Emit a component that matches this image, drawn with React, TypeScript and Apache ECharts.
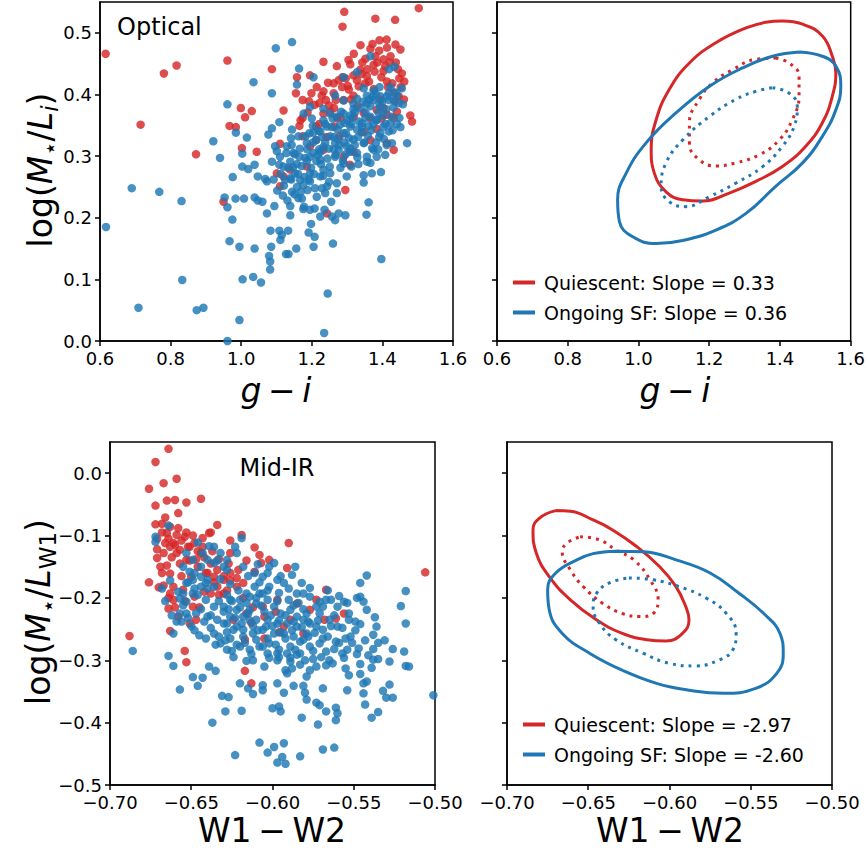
import React, { useEffect, useRef } from 'react';
import * as echarts from 'echarts';

const RED = '#d62728';
const BLUE = '#1f77b4';
const FF = 'DejaVu Sans';

// ---------- Tick values ----------
const optXTicks = [0.6, 0.8, 1.0, 1.2, 1.4, 1.6];
const optYTicks = [0.0, 0.1, 0.2, 0.3, 0.4, 0.5];
const irXTicks = [-0.7, -0.65, -0.6, -0.55, -0.5];
const irYTicks = [-0.5, -0.4, -0.3, -0.2, -0.1, 0.0];

// ---------- Optical scatter (g-i, log M/L_i) ----------
const opticalQuiescent: number[][] = [
  [0.616,0.466],[0.781,0.434],[0.817,0.447],[0.715,0.351],[0.872,0.303],[0.961,0.455],[0.999,0.378],[1.011,0.363],
  [1.030,0.373],[0.967,0.349],[0.985,0.347],[1.002,0.313],[1.044,0.307],[1.087,0.441],[1.120,0.374],[1.110,0.320],
  [0.950,0.226],[1.292,0.534],[1.287,0.510],[1.380,0.523],[1.436,0.521],[1.503,0.540],[1.338,0.480],[1.233,0.453],
  [1.271,0.446],[1.195,0.431],[1.158,0.428],[1.155,0.402],[1.199,0.402],[1.233,0.405],[1.276,0.423],[1.304,0.456],
  [1.319,0.466],[1.366,0.474],[1.392,0.488],[1.413,0.476],[1.437,0.481],[1.451,0.473],[1.380,0.462],[1.403,0.457],
  [1.337,0.440],[1.356,0.430],[1.403,0.438],[1.455,0.434],[1.413,0.421],[1.432,0.403],[1.446,0.397],[1.436,0.389],
  [1.479,0.366],[1.484,0.356],[1.432,0.362],[1.413,0.367],[1.174,0.391],[1.221,0.386],[1.249,0.382],[1.240,0.391],
  [1.263,0.378],[1.286,0.412],[1.305,0.408],[1.333,0.413],[1.174,0.362],[1.165,0.349],[1.212,0.348],[1.233,0.369],
  [1.319,0.364],[1.347,0.370],[1.384,0.375],[1.403,0.378],[1.174,0.332],[1.195,0.316],[1.233,0.310],[1.290,0.299],
  [1.308,0.286],[1.318,0.307],[1.413,0.321],[1.432,0.310],[1.101,0.272],[1.120,0.267],[1.139,0.278],[1.110,0.251],
  [1.186,0.283],[1.295,0.245],[1.243,0.207],[1.347,0.339],[1.366,0.326],[1.264,0.348],[1.278,0.332],[1.212,0.326],
  [1.384,0.344],[1.290,0.391],[1.328,0.423],[1.351,0.418],[1.375,0.448],
  [1.252,0.372],[1.268,0.391],[1.302,0.414],[1.318,0.398],[1.341,0.433],[1.362,0.421],[1.378,0.437],[1.397,0.428],
  [1.421,0.452],[1.444,0.441],[1.309,0.449],[1.352,0.458],[1.391,0.471],[1.412,0.489],[1.372,0.482],[1.428,0.418],
  [1.452,0.412],[1.287,0.428],[1.228,0.398],[1.208,0.383],[1.188,0.371],[1.168,0.358],[1.262,0.418],[1.281,0.363],
  [1.329,0.381],[1.461,0.392],[1.441,0.372],[1.398,0.361],[1.221,0.352],[1.242,0.331],
  [1.262,0.402],[1.296,0.426],[1.318,0.431],[1.343,0.452],[1.357,0.441],[1.386,0.452],[1.408,0.446],[1.423,0.462],
  [1.438,0.452],[1.448,0.426],[1.416,0.412],[1.376,0.409],[1.311,0.392],[1.246,0.419],[1.214,0.412],[1.192,0.389],
  [1.271,0.362],[1.364,0.362],[1.395,0.392],[1.462,0.421],
];

const opticalSF: number[][] = [
  [0.617,0.185],[0.690,0.248],[0.768,0.242],[0.831,0.227],[0.833,0.099],[0.709,0.054],[0.874,0.050],[0.893,0.054],
  [0.995,0.034],[0.961,0.000],[1.004,0.100],[1.034,0.104],[1.056,0.095],[1.082,0.116],[1.082,0.129],[1.079,0.138],
  [1.085,0.153],[1.038,0.150],[0.995,0.153],[0.967,0.162],[0.975,0.197],[0.961,0.217],[0.953,0.233],[0.984,0.231],
  [1.008,0.231],[1.038,0.233],[1.047,0.228],[1.060,0.226],[1.073,0.207],[1.094,0.219],[1.083,0.179],[1.108,0.179],
  [1.115,0.172],[1.111,0.164],[1.133,0.179],[1.127,0.141],[1.134,0.141],[1.156,0.150],[1.139,0.204],[1.139,0.219],
  [1.162,0.232],[1.176,0.214],[1.195,0.213],[1.208,0.215],[1.224,0.202],[1.236,0.213],[1.257,0.202],[1.266,0.196],
  [1.276,0.207],[1.295,0.204],[1.191,0.176],[1.198,0.190],[1.208,0.169],[1.205,0.153],[1.260,0.158],[1.235,0.013],
  [1.245,0.077],[1.397,0.133],[1.355,0.205],[1.361,0.225],[1.470,0.321],[1.396,0.274],[1.455,0.410],[1.434,0.445],
  [1.419,0.441],[1.366,0.462],[1.328,0.436],[1.290,0.428],[1.205,0.428],[1.164,0.442],[1.158,0.416],[1.144,0.485],
  [1.098,0.475],[1.035,0.420],[1.087,0.402],[0.961,0.384],[0.985,0.338],[1.016,0.330],[0.921,0.324],[0.940,0.297],
  [0.976,0.266],[1.003,0.304],[1.003,0.283],[1.020,0.279],[1.038,0.286],[1.047,0.267],[1.068,0.263],[1.087,0.291],
  [1.073,0.259],[1.096,0.316],[1.087,0.345],[1.108,0.355],[1.077,0.335],[1.144,0.343],[1.141,0.329],[1.129,0.316],
  [1.110,0.299],[1.120,0.283],[1.139,0.291],[1.153,0.272],[1.167,0.261],[1.158,0.250],[1.144,0.242],[1.176,0.253],
  [1.195,0.259],[1.165,0.299],[1.195,0.299],[1.224,0.294],[1.233,0.278],[1.224,0.267],[1.252,0.272],[1.271,0.256],
  [1.243,0.251],[1.299,0.267],[1.271,0.240],[1.238,0.240],[1.214,0.234],[1.193,0.337],[1.212,0.326],[1.233,0.315],
  [1.224,0.307],[1.252,0.332],[1.266,0.321],[1.276,0.310],[1.299,0.316],[1.318,0.327],[1.290,0.337],[1.309,0.348],
  [1.328,0.343],[1.347,0.321],[1.356,0.299],[1.356,0.291],[1.375,0.310],[1.384,0.299],[1.408,0.302],[1.370,0.272],
  [1.347,0.269],[1.347,0.257],[1.394,0.337],[1.418,0.340],[1.427,0.321],[1.403,0.348],[1.422,0.353],[1.366,0.364],
  [1.384,0.359],[1.342,0.353],[1.252,0.369],[1.271,0.364],[1.290,0.369],[1.309,0.366],[1.233,0.358],[1.200,0.361],
  [1.177,0.369],[1.195,0.380],[1.233,0.377],[1.266,0.398],[1.290,0.390],[1.318,0.385],[1.356,0.398],[1.375,0.406],
  [1.394,0.397],[1.413,0.397],[1.432,0.391],[1.446,0.386],[1.356,0.385],[1.375,0.391],[1.394,0.380],[1.418,0.402],
  [1.347,0.410],[1.328,0.393],[1.243,0.348],[1.224,0.340],[1.280,0.351],[1.186,0.321],[1.205,0.305],[1.148,0.305],
  [1.101,0.308],[1.139,0.264],[1.195,0.272],[1.290,0.288],[1.308,0.307],[1.328,0.305],[1.266,0.299],
  [1.152,0.303],[1.171,0.284],[1.187,0.311],[1.213,0.292],[1.229,0.331],[1.248,0.312],[1.273,0.343],[1.291,0.322],
  [1.312,0.352],[1.331,0.331],[1.352,0.362],[1.368,0.342],[1.389,0.371],[1.409,0.352],[1.431,0.379],[1.362,0.392],
  [1.381,0.401],[1.399,0.388],[1.423,0.412],[1.442,0.398],[1.338,0.378],[1.322,0.371],[1.301,0.358],[1.283,0.372],
  [1.259,0.361],[1.238,0.352],[1.219,0.341],[1.203,0.322],[1.182,0.297],[1.161,0.271],[1.142,0.262],[1.121,0.252],
  [1.133,0.281],[1.151,0.238],[1.172,0.231],[1.191,0.262],[1.209,0.248],[1.232,0.268],[1.251,0.283],[1.268,0.302],
  [1.288,0.293],[1.309,0.312],[1.329,0.298],[1.349,0.322],[1.371,0.313],[1.391,0.331],[1.412,0.318],[1.429,0.342],
  [1.448,0.362],[1.383,0.358],[1.361,0.349],[1.341,0.339],[1.262,0.331],[1.221,0.311],[1.182,0.332],[1.203,0.349],
  [1.112,0.271],[1.092,0.262],[1.131,0.228],[1.162,0.332],
  [1.128,0.305],[1.143,0.318],[1.158,0.287],[1.166,0.312],[1.179,0.266],[1.186,0.292],[1.198,0.281],[1.204,0.338],
  [1.217,0.302],[1.226,0.287],[1.238,0.322],[1.244,0.296],[1.256,0.347],[1.262,0.311],[1.274,0.328],[1.281,0.281],
  [1.293,0.354],[1.297,0.337],[1.306,0.329],[1.314,0.362],[1.322,0.318],[1.334,0.356],[1.343,0.347],[1.352,0.371],
  [1.359,0.333],[1.366,0.381],[1.374,0.352],[1.382,0.322],[1.391,0.386],[1.402,0.366],[1.411,0.376],[1.418,0.391],
  [1.426,0.364],[1.437,0.403],[1.441,0.352],[1.392,0.412],[1.372,0.396],[1.345,0.388],[1.318,0.376],[1.296,0.303],
  [1.278,0.318],[1.249,0.258],[1.229,0.248],[1.206,0.271],[1.188,0.245],[1.169,0.242],[1.147,0.282],[1.124,0.262],
  [1.108,0.286],[1.102,0.244],[1.118,0.236],[1.178,0.218],[1.255,0.226],[1.312,0.283],[1.332,0.287],[1.366,0.289],
  [1.388,0.311],[1.404,0.328],[1.451,0.347],[1.458,0.384],
];

// ---------- Mid-IR scatter (W1-W2, log M/L_W1) ----------
const midirQuiescent: number[][] = [
  [-0.664,0.039],[-0.672,0.018],[-0.667,-0.016],[-0.659,-0.009],[-0.676,-0.025],[-0.672,-0.052],[-0.665,-0.044],[-0.660,-0.043],
  [-0.653,-0.047],[-0.644,-0.041],[-0.658,-0.064],[-0.672,-0.082],[-0.666,-0.071],[-0.668,-0.081],[-0.663,-0.086],[-0.665,-0.096],
  [-0.659,-0.099],[-0.654,-0.102],[-0.649,-0.100],[-0.643,-0.104],[-0.639,-0.096],[-0.634,-0.083],[-0.638,-0.095],[-0.671,-0.122],
  [-0.671,-0.136],[-0.665,-0.148],[-0.663,-0.161],[-0.676,-0.175],[-0.670,-0.183],[-0.663,-0.193],[-0.661,-0.203],[-0.664,-0.217],
  [-0.663,-0.253],[-0.688,-0.261],[-0.654,-0.285],[-0.653,-0.303],[-0.617,-0.317],[-0.613,-0.337],[-0.590,-0.112],[-0.619,-0.099],
  [-0.626,-0.108],[-0.611,-0.119],[-0.608,-0.131],[-0.602,-0.139],[-0.607,-0.144],[-0.591,-0.152],[-0.506,-0.159],[-0.567,-0.187],
  [-0.556,-0.225],[-0.568,-0.235],[-0.561,-0.233],[-0.651,-0.118],[-0.644,-0.128],[-0.653,-0.139],[-0.646,-0.150],[-0.641,-0.160],
  [-0.636,-0.166],[-0.630,-0.171],[-0.626,-0.160],[-0.622,-0.168],[-0.618,-0.176],[-0.634,-0.182],[-0.638,-0.193],[-0.630,-0.193],
  [-0.650,-0.166],[-0.655,-0.187],[-0.649,-0.214],[-0.647,-0.235],[-0.651,-0.241],[-0.624,-0.235],[-0.616,-0.225],[-0.606,-0.214],
  [-0.597,-0.203],[-0.593,-0.246],[-0.589,-0.235],[-0.585,-0.209],[-0.581,-0.257],[-0.577,-0.219],[-0.573,-0.203],[-0.605,-0.265],
  [-0.617,-0.267],[-0.626,-0.128],[-0.661,-0.112],[-0.657,-0.123],[-0.666,-0.112],[-0.668,-0.160],[-0.659,-0.128],
  [-0.668,-0.095],[-0.664,-0.105],[-0.660,-0.115],[-0.656,-0.108],[-0.652,-0.118],[-0.648,-0.112],[-0.646,-0.125],[-0.642,-0.135],
  [-0.638,-0.145],[-0.634,-0.155],[-0.630,-0.165],[-0.626,-0.172],[-0.622,-0.182],[-0.636,-0.175],[-0.642,-0.190],[-0.648,-0.198],
  [-0.654,-0.205],[-0.660,-0.215],[-0.664,-0.200],[-0.667,-0.180],[-0.669,-0.150],[-0.662,-0.135],[-0.657,-0.145],[-0.651,-0.140],
  [-0.640,-0.160],[-0.628,-0.188],[-0.618,-0.200],[-0.612,-0.215],[-0.605,-0.230],[-0.598,-0.222],
  [-0.671,-0.105],[-0.667,-0.128],[-0.663,-0.118],[-0.658,-0.088],[-0.653,-0.095],[-0.647,-0.138],[-0.643,-0.118],[-0.637,-0.125],
  [-0.633,-0.138],[-0.627,-0.145],[-0.621,-0.155],[-0.616,-0.140],[-0.611,-0.158],[-0.656,-0.165],[-0.661,-0.182],[-0.658,-0.230],
  [-0.645,-0.215],[-0.633,-0.195],[-0.613,-0.240],[-0.596,-0.255],
];

const midirSF: number[][] = [
  [-0.686,-0.285],[-0.664,-0.293],[-0.661,-0.309],[-0.657,-0.347],[-0.649,-0.327],[-0.646,-0.341],[-0.643,-0.328],[-0.639,-0.310],
  [-0.635,-0.317],[-0.637,-0.400],[-0.631,-0.357],[-0.627,-0.359],[-0.629,-0.382],[-0.619,-0.381],[-0.623,-0.452],[-0.620,-0.337],
  [-0.615,-0.345],[-0.612,-0.354],[-0.608,-0.432],[-0.603,-0.448],[-0.599,-0.439],[-0.597,-0.464],[-0.593,-0.433],[-0.594,-0.455],
  [-0.592,-0.466],[-0.606,-0.348],[-0.606,-0.340],[-0.600,-0.377],[-0.596,-0.374],[-0.595,-0.382],[-0.593,-0.352],[-0.597,-0.337],
  [-0.587,-0.341],[-0.583,-0.454],[-0.582,-0.392],[-0.579,-0.363],[-0.581,-0.341],[-0.580,-0.352],[-0.573,-0.368],[-0.571,-0.372],
  [-0.572,-0.403],[-0.569,-0.443],[-0.562,-0.440],[-0.569,-0.345],[-0.567,-0.382],[-0.561,-0.376],[-0.560,-0.385],[-0.561,-0.396],
  [-0.554,-0.348],[-0.544,-0.353],[-0.544,-0.337],[-0.546,-0.322],[-0.542,-0.334],[-0.543,-0.371],[-0.539,-0.392],[-0.535,-0.383],
  [-0.532,-0.349],[-0.530,-0.360],[-0.528,-0.339],[-0.526,-0.360],[-0.526,-0.282],[-0.519,-0.286],[-0.518,-0.309],[-0.516,-0.310],
  [-0.518,-0.241],[-0.518,-0.189],[-0.521,-0.213],[-0.501,-0.356],[-0.542,-0.164],[-0.546,-0.176],[-0.536,-0.246],[-0.538,-0.259],
  [-0.535,-0.272],[-0.538,-0.282],[-0.535,-0.298],[-0.538,-0.299],[-0.546,-0.306],[-0.549,-0.252],[-0.546,-0.242],[-0.542,-0.219],
  [-0.544,-0.206],[-0.548,-0.200],[-0.554,-0.208],[-0.553,-0.235],[-0.555,-0.265],[-0.554,-0.283],[-0.557,-0.289],[-0.555,-0.313],
  [-0.553,-0.324],[-0.561,-0.270],[-0.560,-0.246],[-0.567,-0.286],[-0.567,-0.308],[-0.565,-0.300],[-0.573,-0.310],[-0.577,-0.316],
  [-0.579,-0.326],[-0.583,-0.307],[-0.588,-0.313],[-0.591,-0.321],[-0.592,-0.316],[-0.589,-0.302],[-0.597,-0.300],[-0.605,-0.310],
  [-0.612,-0.300],[-0.616,-0.301],[-0.624,-0.295],[-0.628,-0.283],[-0.632,-0.273],[-0.636,-0.257],[-0.626,-0.265],[-0.620,-0.278],
  [-0.614,-0.283],[-0.608,-0.278],[-0.602,-0.273],[-0.596,-0.283],[-0.589,-0.278],[-0.583,-0.289],[-0.577,-0.278],[-0.571,-0.273],
  [-0.581,-0.267],[-0.587,-0.262],[-0.593,-0.257],[-0.599,-0.257],[-0.606,-0.251],[-0.612,-0.257],[-0.618,-0.251],[-0.622,-0.246],
  [-0.628,-0.241],[-0.634,-0.235],[-0.640,-0.230],[-0.647,-0.225],[-0.653,-0.225],[-0.657,-0.225],[-0.659,-0.238],[-0.661,-0.257],
  [-0.668,-0.185],[-0.672,-0.102],[-0.672,-0.110],[-0.664,-0.084],[-0.655,-0.193],[-0.653,-0.206],[-0.649,-0.193],[-0.644,-0.182],
  [-0.649,-0.171],[-0.653,-0.176],[-0.651,-0.158],[-0.644,-0.166],[-0.640,-0.171],[-0.636,-0.182],[-0.641,-0.203],[-0.636,-0.214],
  [-0.630,-0.214],[-0.626,-0.203],[-0.620,-0.203],[-0.616,-0.193],[-0.611,-0.182],[-0.608,-0.193],[-0.603,-0.203],[-0.599,-0.214],
  [-0.595,-0.225],[-0.589,-0.219],[-0.585,-0.230],[-0.581,-0.235],[-0.577,-0.241],[-0.573,-0.246],[-0.569,-0.251],[-0.565,-0.235],
  [-0.569,-0.214],[-0.573,-0.214],[-0.577,-0.198],[-0.581,-0.193],[-0.585,-0.193],[-0.590,-0.203],[-0.593,-0.176],[-0.597,-0.171],
  [-0.602,-0.182],[-0.606,-0.193],[-0.610,-0.209],[-0.614,-0.219],[-0.618,-0.230],[-0.622,-0.219],[-0.626,-0.230],[-0.630,-0.241],
  [-0.624,-0.251],[-0.610,-0.235],[-0.603,-0.235],[-0.597,-0.241],[-0.591,-0.241],[-0.585,-0.246],[-0.579,-0.257],[-0.610,-0.267],
  [-0.603,-0.289],[-0.597,-0.289],[-0.591,-0.289],[-0.585,-0.291],[-0.653,-0.128],[-0.649,-0.139],[-0.643,-0.128],[-0.640,-0.139],
  [-0.636,-0.118],[-0.636,-0.144],[-0.632,-0.128],[-0.630,-0.150],[-0.628,-0.139],[-0.622,-0.128],[-0.618,-0.150],[-0.623,-0.118],
  [-0.619,-0.104],[-0.611,-0.160],[-0.606,-0.166],[-0.602,-0.150],[-0.599,-0.144],[-0.588,-0.163],[-0.586,-0.150],[-0.577,-0.184],
  [-0.571,-0.206],[-0.567,-0.203],[-0.564,-0.203],[-0.559,-0.197],[-0.556,-0.206],[-0.560,-0.214],[-0.546,-0.198],
  [-0.625,-0.205],[-0.620,-0.215],[-0.615,-0.225],[-0.610,-0.200],[-0.605,-0.222],[-0.600,-0.245],[-0.595,-0.255],[-0.612,-0.245],
  [-0.618,-0.262],[-0.622,-0.275],[-0.628,-0.255],[-0.633,-0.262],[-0.638,-0.248],[-0.642,-0.238],[-0.630,-0.222],[-0.616,-0.208],
  [-0.607,-0.212],[-0.603,-0.265],[-0.598,-0.275],[-0.592,-0.265],[-0.588,-0.252],[-0.583,-0.270],[-0.578,-0.262],[-0.575,-0.285],
  [-0.586,-0.283],[-0.596,-0.295],[-0.606,-0.278],[-0.613,-0.290],[-0.625,-0.285],[-0.635,-0.275],[-0.645,-0.260],[-0.650,-0.245],
  [-0.655,-0.212],[-0.646,-0.195],[-0.640,-0.185],[-0.632,-0.170],[-0.626,-0.178],[-0.621,-0.188],[-0.608,-0.175],[-0.603,-0.160],
  [-0.596,-0.192],[-0.590,-0.185],[-0.584,-0.208],[-0.579,-0.225],[-0.572,-0.236],[-0.566,-0.262],[-0.562,-0.282],[-0.570,-0.295],
  [-0.580,-0.300],[-0.557,-0.248],[-0.551,-0.272],[-0.548,-0.290],[-0.543,-0.268],[-0.553,-0.225],[-0.634,-0.140],[-0.628,-0.155],
  [-0.644,-0.150],[-0.648,-0.160],[-0.652,-0.175],[-0.658,-0.190],
  [-0.652,-0.232],[-0.644,-0.218],[-0.638,-0.228],[-0.633,-0.205],[-0.627,-0.218],[-0.623,-0.232],[-0.619,-0.241],[-0.614,-0.236],
  [-0.609,-0.252],[-0.604,-0.246],[-0.601,-0.228],[-0.596,-0.236],[-0.592,-0.228],[-0.587,-0.238],[-0.582,-0.247],[-0.578,-0.238],
  [-0.574,-0.256],[-0.569,-0.265],[-0.564,-0.245],[-0.559,-0.272],[-0.552,-0.262],[-0.547,-0.281],[-0.541,-0.292],[-0.556,-0.296],
  [-0.563,-0.305],[-0.575,-0.298],[-0.589,-0.296],[-0.602,-0.296],[-0.617,-0.272],[-0.629,-0.268],[-0.641,-0.265],[-0.648,-0.252],
  [-0.656,-0.238],[-0.662,-0.228],[-0.657,-0.201],[-0.648,-0.185],[-0.641,-0.176],[-0.628,-0.195],[-0.614,-0.198],[-0.603,-0.188],
  [-0.597,-0.205],[-0.587,-0.212],[-0.581,-0.218],[-0.571,-0.225],[-0.562,-0.228],[-0.549,-0.238],[-0.537,-0.231],[-0.531,-0.268],
  [-0.539,-0.312],[-0.528,-0.302],[-0.615,-0.165],[-0.609,-0.146],[-0.595,-0.165],[-0.582,-0.176],[-0.566,-0.188],[-0.639,-0.117],
  [-0.646,-0.111],[-0.655,-0.150],[-0.663,-0.172],[-0.666,-0.205],
];

// ---------- Contours (outer = solid, inner = dotted) ----------
const optQOuter: number[][] = [
  [1.407,0.519],[1.464,0.514],[1.520,0.495],[1.548,0.462],[1.558,0.435],[1.548,0.397],[1.520,0.354],[1.473,0.316],
  [1.407,0.283],[1.332,0.259],[1.257,0.240],[1.181,0.227],[1.125,0.229],[1.078,0.242],[1.045,0.272],[1.036,0.310],
  [1.050,0.359],[1.087,0.408],[1.144,0.451],[1.219,0.484],[1.304,0.508],[1.360,0.517],
];
const optQInner: number[][] = [
  [1.388,0.459],[1.426,0.451],[1.454,0.430],[1.454,0.397],[1.435,0.359],[1.398,0.326],[1.341,0.302],[1.275,0.289],
  [1.219,0.284],[1.172,0.294],[1.144,0.321],[1.144,0.354],[1.172,0.392],[1.210,0.419],[1.266,0.440],[1.332,0.457],
];
const optSFOuter: number[][] = [
  [1.454,0.469],[1.520,0.462],[1.558,0.446],[1.572,0.413],[1.558,0.375],[1.520,0.332],[1.464,0.289],[1.388,0.251],
  [1.304,0.207],[1.219,0.180],[1.125,0.163],[1.050,0.158],[0.984,0.169],[0.946,0.194],[0.941,0.229],[0.965,0.272],
  [1.021,0.321],[1.106,0.370],[1.200,0.413],[1.294,0.443],[1.379,0.462],
];
const optSFInner: number[][] = [
  [1.379,0.411],[1.426,0.402],[1.449,0.381],[1.440,0.348],[1.407,0.316],[1.351,0.283],[1.275,0.256],[1.200,0.234],
  [1.134,0.218],[1.087,0.226],[1.064,0.251],[1.078,0.289],[1.125,0.326],[1.200,0.364],[1.275,0.392],[1.332,0.405],
];
const irQOuter: number[][] = [
  [-0.670,-0.060],[-0.661,-0.061],[-0.647,-0.075],[-0.635,-0.091],[-0.620,-0.118],[-0.606,-0.150],[-0.596,-0.182],[-0.590,-0.214],
  [-0.588,-0.235],[-0.592,-0.257],[-0.602,-0.269],[-0.614,-0.267],[-0.629,-0.257],[-0.645,-0.235],[-0.661,-0.203],[-0.674,-0.166],
  [-0.682,-0.128],[-0.684,-0.091],[-0.680,-0.072],
];
const irQInner: number[][] = [
  [-0.655,-0.102],[-0.643,-0.107],[-0.633,-0.123],[-0.622,-0.139],[-0.612,-0.171],[-0.607,-0.203],[-0.610,-0.225],[-0.618,-0.230],
  [-0.629,-0.225],[-0.641,-0.209],[-0.653,-0.182],[-0.661,-0.155],[-0.666,-0.126],[-0.663,-0.112],
];
const irSFOuter: number[][] = [
  [-0.633,-0.125],[-0.616,-0.126],[-0.596,-0.139],[-0.575,-0.160],[-0.557,-0.193],[-0.542,-0.225],[-0.532,-0.257],[-0.530,-0.289],
  [-0.534,-0.321],[-0.547,-0.345],[-0.567,-0.353],[-0.588,-0.348],[-0.608,-0.337],[-0.629,-0.316],[-0.649,-0.289],[-0.666,-0.257],
  [-0.674,-0.219],[-0.675,-0.187],[-0.670,-0.160],[-0.657,-0.139],[-0.647,-0.129],
];
const irSFInner: number[][] = [
  [-0.625,-0.168],[-0.610,-0.171],[-0.594,-0.182],[-0.577,-0.201],[-0.565,-0.225],[-0.559,-0.257],[-0.561,-0.283],[-0.569,-0.299],
  [-0.584,-0.309],[-0.600,-0.305],[-0.616,-0.289],[-0.633,-0.267],[-0.643,-0.241],[-0.647,-0.214],[-0.645,-0.193],[-0.637,-0.176],
];

const optLegend = ['Quiescent: Slope = 0.33', 'Ongoing SF: Slope = 0.36'];
const irLegend = ['Quiescent: Slope = -2.97', 'Ongoing SF: Slope = -2.60'];

const closed = (a: number[][]) => [...a, a[0]];
const fmt = (v: number, d: number) => {
  const s = Math.abs(v).toFixed(d);
  return v < -1e-9 ? '\u2212' + s : s;
};
const onStep = (v: number, step: number) => Math.abs(v / step - Math.round(v / step)) < 1e-6;

function axis(gridIndex: number, min: number, max: number, interval: number, ticks: number[], digits: number, showLabels: boolean) {
  return {
    type: 'value',
    gridIndex,
    min,
    max,
    interval,
    axisLine: { show: true, onZero: false, lineStyle: { color: '#000', width: 1.5 } },
    splitLine: { show: false },
    axisTick: { show: true, inside: false, length: 5, customValues: ticks, lineStyle: { color: '#000', width: 1.5 } },
    axisLabel: {
      show: showLabels,
      customValues: ticks,
      color: '#000',
      fontSize: 18,
      fontFamily: FF,
      margin: 8,
      formatter: (v: number) => (onStep(v, interval) ? fmt(v, digits) : ''),
    },
  };
}

function scatter(name: string, idx: number, data: number[][], color: string) {
  return {
    type: 'scatter',
    name,
    xAxisIndex: idx,
    yAxisIndex: idx,
    data,
    symbolSize: 8.5,
    silent: true,
    itemStyle: { color, opacity: 0.82 },
  };
}

function contour(name: string, idx: number, data: number[][], color: string, dotted: boolean) {
  return {
    type: 'line',
    name,
    xAxisIndex: idx,
    yAxisIndex: idx,
    data: closed(data),
    symbol: 'none',
    showSymbol: false,
    smooth: 0.45,
    silent: true,
    clip: false,
    itemStyle: { color },
    lineStyle: dotted ? { color, width: 3, type: [3, 5] } : { color, width: 3 },
  };
}

const richBase = {
  n: { fontSize: 33, fontFamily: FF, fill: '#000', lineHeight: 42 },
  it: { fontSize: 33, fontFamily: FF, fontStyle: 'italic', fill: '#000', lineHeight: 42 },
  sub: { fontSize: 23, fontFamily: FF, fill: '#000', lineHeight: 23, verticalAlign: 'bottom' },
  subit: { fontSize: 23, fontFamily: FF, fontStyle: 'italic', fill: '#000', lineHeight: 23, verticalAlign: 'bottom' },
};

function title(text: string, x: number, y: number, rotate: boolean) {
  return {
    type: 'text',
    x,
    y,
    rotation: rotate ? Math.PI / 2 : 0,
    silent: true,
    style: { text, rich: richBase, align: 'center', verticalAlign: 'middle', fill: '#000' },
  };
}

function legend(data: string[], left: number, top: number) {
  return {
    data,
    orient: 'vertical',
    left,
    top,
    icon: 'rect',
    itemWidth: 22,
    itemHeight: 4,
    itemGap: 11,
    selectedMode: false,
    padding: 0,
    textStyle: { fontSize: 19, fontFamily: FF, color: '#000', padding: [0, 0, 0, 4] },
  };
}

const gridStyle = { show: true, borderColor: '#000', borderWidth: 1.5, backgroundColor: 'transparent' };

const option = {
  animation: false,
  backgroundColor: '#fff',
  textStyle: { fontFamily: FF },
  grid: [
    { left: 100, top: 2, width: 353, height: 339, ...gridStyle },
    { left: 497, top: 2, width: 355, height: 339, ...gridStyle },
    { left: 110, top: 442, width: 325, height: 343, ...gridStyle },
    { left: 507, top: 442, width: 325, height: 343, ...gridStyle },
  ],
  xAxis: [
    axis(0, 0.6, 1.6, 0.2, optXTicks, 1, true),
    axis(1, 0.6, 1.6, 0.2, optXTicks, 1, true),
    axis(2, -0.7, -0.5, 0.05, irXTicks, 2, true),
    axis(3, -0.7, -0.5, 0.05, irXTicks, 2, true),
  ],
  yAxis: [
    axis(0, 0, 0.55, 0.1, optYTicks, 1, true),
    axis(1, 0, 0.55, 0.1, optYTicks, 1, false),
    axis(2, -0.5, 0.05, 0.1, irYTicks, 1, true),
    axis(3, -0.5, 0.05, 0.1, irYTicks, 1, false),
  ],
  legend: [legend(optLegend, 513, 273), legend(irLegend, 523, 715)],
  series: [
    scatter('optQ', 0, opticalQuiescent, RED),
    scatter('optSF', 0, opticalSF, BLUE),
    contour(optLegend[0], 1, optQOuter, RED, false),
    contour('optQInner', 1, optQInner, RED, true),
    contour(optLegend[1], 1, optSFOuter, BLUE, false),
    contour('optSFInner', 1, optSFInner, BLUE, true),
    scatter('irQ', 2, midirQuiescent, RED),
    scatter('irSF', 2, midirSF, BLUE),
    contour(irLegend[0], 3, irQOuter, RED, false),
    contour('irQInner', 3, irQInner, RED, true),
    contour(irLegend[1], 3, irSFOuter, BLUE, false),
    contour('irSFInner', 3, irSFInner, BLUE, true),
  ],
  graphic: [
    { type: 'text', x: 117, y: 27, silent: true, style: { text: 'Optical', font: `24px "${FF}"`, fill: '#000', verticalAlign: 'middle' } },
    { type: 'text', x: 277, y: 468, silent: true, style: { text: 'Mid-IR', font: `24px "${FF}"`, fill: '#000', align: 'center', verticalAlign: 'middle' } },
    title('{it|g}{n|\u2009\u2212\u2009}{it|i}', 276, 390, false),
    title('{it|g}{n|\u2009\u2212\u2009}{it|i}', 675, 390, false),
    title('{n|W1\u2009\u2212\u2009W2}', 272, 830, false),
    title('{n|W1\u2009\u2212\u2009W2}', 670, 830, false),
    title('{n|log(}{it|M}{sub|\u22c6}{n|/}{it|L}{subit|i}{n|)}', 40, 170, true),
    title('{n|log(}{it|M}{sub|\u22c6}{n|/}{it|L}{sub|W1}{n|)}', 38, 612, true),
  ],
};

export default function App() {
  const ref = useRef<HTMLDivElement>(null);
  useEffect(() => {
    if (!ref.current) return;
    const chart = echarts.init(ref.current, null, { renderer: 'svg' });
    chart.setOption(option as any);
    return () => chart.dispose();
  }, []);
  return (
    <div
      ref={ref}
      style={{ position: 'fixed', left: 0, top: 0, width: 868, height: 853, background: '#fff' }}
    />
  );
}
